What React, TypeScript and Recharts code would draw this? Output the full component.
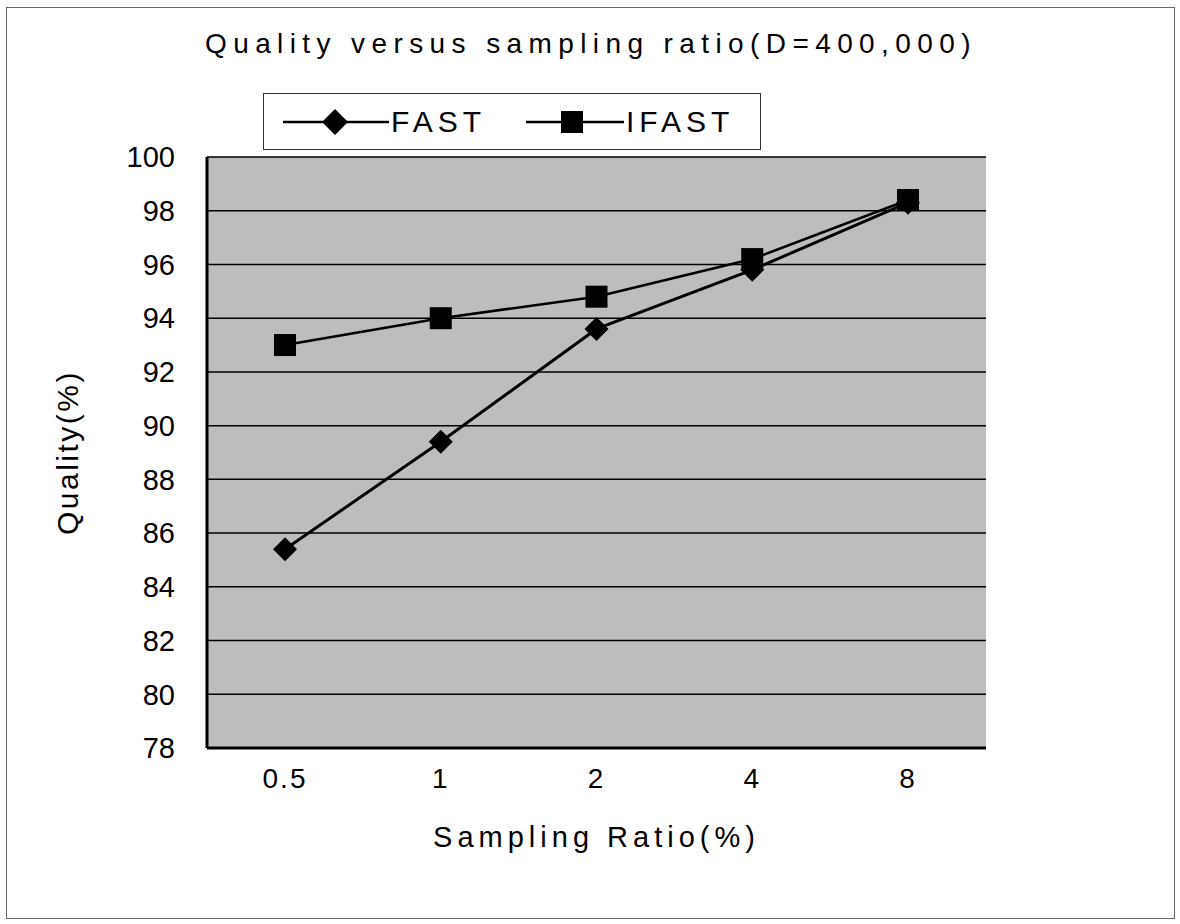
import { LineChart, Line, XAxis, YAxis, CartesianGrid } from 'recharts'

const ratios = ['0.5', '1', '2', '4', '8']
const fastQuality = [85.4, 89.4, 93.6, 95.8, 98.3]
const ifastQuality = [93.0, 94.0, 94.8, 96.2, 98.4]
const yTicks = [78, 80, 82, 84, 86, 88, 90, 92, 94, 96, 98, 100]

const data = ratios.map((r, i) => ({
  ratio: r,
  FAST: fastQuality[i],
  IFAST: ifastQuality[i],
}))

const font = '"Liberation Sans", Arial, sans-serif'

const Diamond = (props: any) => {
  const { cx, cy } = props
  if (cx == null || cy == null) return null
  const r = 12
  return (
    <path
      d={`M${cx},${cy - r}L${cx + r},${cy}L${cx},${cy + r}L${cx - r},${cy}Z`}
      fill='#000'
    />
  )
}

const Square = (props: any) => {
  const { cx, cy } = props
  if (cx == null || cy == null) return null
  const s = 11
  return <rect x={cx - s} y={cy - s} width={s * 2} height={s * 2} fill='#000' />
}

// legend drawn as a plain box so it doesn't eat into the plot area
function LegendBox() {
  return (
    <div
      style={{
        position: 'absolute',
        left: 263,
        top: 93,
        width: 498,
        height: 57,
        border: '1.5px solid #333',
        background: '#fff',
        boxSizing: 'border-box',
        display: 'flex',
        alignItems: 'center',
        fontFamily: font,
        fontSize: 30,
        letterSpacing: 5,
        zIndex: 2,
      }}
    >
      <svg width={106} height={30} style={{ marginLeft: 19 }}>
        <line x1={0} y1={15} x2={106} y2={15} stroke='#000' strokeWidth={2.5} />
        <path d='M52,2L65,15L52,28L39,15Z' fill='#000' />
      </svg>
      <span style={{ marginLeft: 2 }}>FAST</span>
      <svg width={98} height={30} style={{ marginLeft: 40 }}>
        <line x1={0} y1={15} x2={98} y2={15} stroke='#000' strokeWidth={2.5} />
        <rect x={35} y={4} width={22} height={22} fill='#000' />
      </svg>
      <span style={{ marginLeft: 2 }}>IFAST</span>
    </div>
  )
}

export default function App() {
  return (
    <div style={{ position: 'absolute', left: 0, top: 0, width: 1180, height: 924, background: '#fff' }}>
      <div
        style={{
          position: 'absolute',
          left: 6,
          top: 7,
          width: 1167,
          height: 910,
          border: '1px solid #666',
        }}
      />
      <div
        style={{
          position: 'absolute',
          left: 205,
          top: 28,
          width: 790,
          whiteSpace: 'nowrap',
          fontFamily: font,
          fontSize: 28,
          letterSpacing: 6.4,
        }}
      >
        Quality versus sampling ratio(D=400,000)
      </div>
      <LineChart
        width={1180}
        height={924}
        data={data}
        margin={{ top: 157, right: 194, bottom: 0, left: 147 }}
        style={{ position: 'absolute', left: 0, top: 0, fontFamily: font }}
      >
        <CartesianGrid
          vertical={false}
          horizontal
          stroke='#000'
          strokeWidth={1.5}
          fill='#bdbdbd'
          fillOpacity={1}
          xAxisId='bottom'
          yAxisId='left'
        />
        <XAxis
          dataKey='ratio'
          xAxisId='bottom'
          height={176}
          padding={{ left: 78, right: 78 }}
          tickSize={0}
          tickMargin={20}
          axisLine={{ stroke: '#000', strokeWidth: 3 }}
          tick={{ fill: '#000', fontSize: 28, letterSpacing: 2 }}
          label={{
            value: 'Sampling Ratio(%)',
            position: 'insideTop',
            offset: 78,
            fill: '#000',
            fontSize: 29,
            letterSpacing: 5,
          }}
        />
        <XAxis
          dataKey='ratio'
          xAxisId='top'
          orientation='top'
          height={0}
          tick={false}
          tickLine={false}
          axisLine={{ stroke: '#000', strokeWidth: 2.5 }}
        />
        <YAxis
          yAxisId='left'
          width={60}
          domain={[78, 100]}
          ticks={yTicks}
          interval={0}
          tickSize={0}
          tickMargin={32}
          axisLine={{ stroke: '#000', strokeWidth: 3 }}
          tick={{ fill: '#000', fontSize: 29 }}
          label={{
            value: 'Quality(%)',
            angle: -90,
            position: 'insideLeft',
            dx: -85,
            dy: 0,
            fill: '#000',
            fontSize: 30,
            letterSpacing: 2.5,
            style: { textAnchor: 'middle' },
          }}
        />
        <YAxis
          yAxisId='right'
          orientation='right'
          width={0}
          domain={[78, 100]}
          tick={false}
          tickLine={false}
          axisLine={{ stroke: '#000', strokeWidth: 2.5 }}
        />
        <Line
          xAxisId='bottom'
          yAxisId='left'
          dataKey='FAST'
          stroke='#000'
          strokeWidth={3}
          dot={<Diamond />}
          activeDot={false}
          isAnimationActive={false}
        />
        <Line
          xAxisId='bottom'
          yAxisId='left'
          dataKey='IFAST'
          stroke='#000'
          strokeWidth={2.5}
          dot={<Square />}
          activeDot={false}
          isAnimationActive={false}
        />
      </LineChart>
      <LegendBox />
    </div>
  )
}
